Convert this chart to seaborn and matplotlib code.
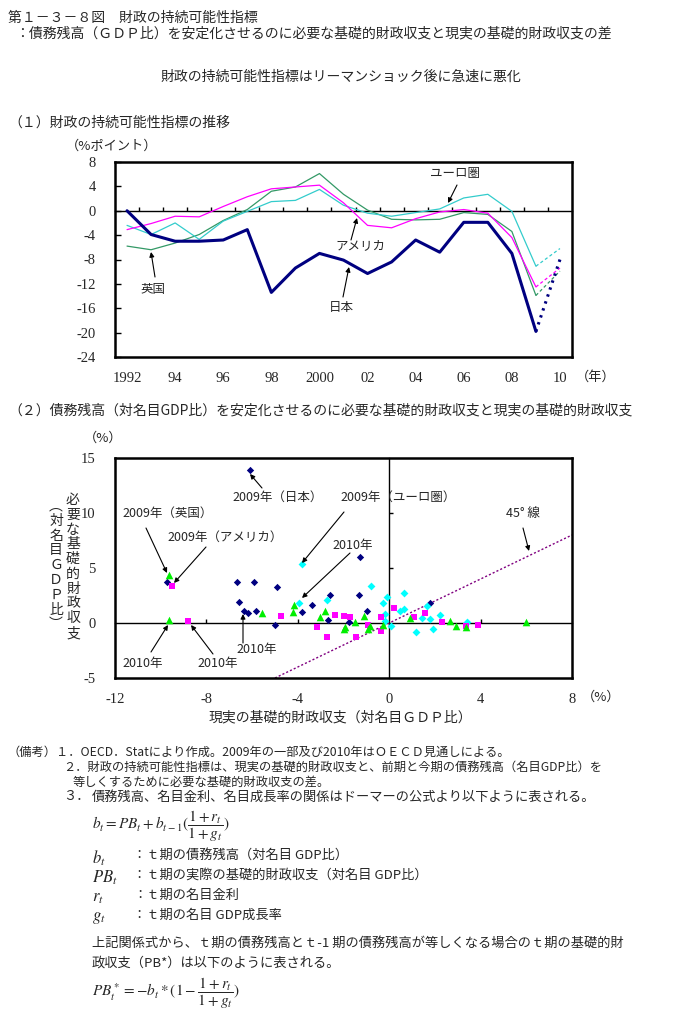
import matplotlib
matplotlib.use("Agg")
import matplotlib.pyplot as plt
import numpy as np
import pandas as pd
import seaborn as sns

# ---------------- Panel (1) data ----------------
years = list(range(1992, 2011))
japan = [0.0, -3.9, -5.0, -5.0, -4.8, -3.1, -13.4, -9.4, -7.0, -8.1, -10.3, -8.4, -4.8, -6.8, -1.9, -1.9, -7.0, -19.8, -8.0]
usa = [-3.1, -2.1, -0.9, -1.0, 0.7, 2.3, 3.6, 3.9, 4.2, 1.3, -2.4, -2.8, -1.3, -0.2, 0.2, -0.4, -4.4, -12.5, -9.4]
euro = [-2.4, -3.9, -2.0, -4.7, -1.7, -0.1, 1.5, 1.7, 3.5, 0.9, -0.4, -0.9, -0.3, 0.3, 2.1, 2.7, -0.1, -9.1, -6.2]
uk = [-5.8, -6.4, -5.3, -3.9, -1.6, 0.2, 3.2, 3.9, 6.1, 2.7, 0.1, -1.4, -1.5, -1.4, -0.3, -0.6, -3.4, -13.9, -9.9]
year_ticks = [1992, 1994, 1996, 1998, 2000, 2002, 2004, 2006, 2008, 2010]
year_labels = ["1992", "94", "96", "98", "2000", "02", "04", "06", "08", "10"]
y1_ticks = [8, 4, 0, -4, -8, -12, -16, -20, -24]

# ---------------- Panel (2) data ----------------
jp_x = [-6.09, -9.71, -6.67, -5.91, -4.89, -1.27, -6.57, -6.34, -6.16, -5.85, -4.99, -3.80, -3.40, -2.61, -2.70, -1.74, -1.31, -0.99, 1.77]
jp_y = [13.9, 3.76, 3.73, 3.73, 3.3, 6.03, 1.88, 1.06, 0.91, 1.06, -0.18, 1.0, 1.64, 2.55, 0.27, 0.06, 2.55, 1.09, 1.85]
eu_x = [-3.82, -3.94, -2.73, -0.79, -0.10, -0.28, -0.19, -0.19, 0.09, 0.63, 0.64, 0.48, 1.66, 1.45, 1.80, 2.23, 1.17, 1.91, 3.42]
eu_y = [5.36, 1.79, 2.12, 3.33, 2.39, 1.85, 0.85, 0.18, -0.24, 2.76, 1.24, 1.06, 1.58, 0.48, 0.39, 0.70, -0.85, -0.52, 0.06]
us_x = [-9.50, -8.80, -4.74, -3.17, -2.72, -2.36, -1.97, -1.72, -1.45, -0.93, -0.36, -0.36, 0.20, 1.09, 1.56, 2.32, 3.37, 3.90]
us_y = [3.33, 0.15, 0.67, -0.33, -1.24, 0.76, 0.67, 0.58, -1.24, -0.18, 0.58, -0.70, 1.39, 0.58, 0.94, 0.12, -0.24, -0.15]
uk_x = [-9.64, -9.64, -5.55, -4.20, -4.16, -3.02, -2.80, -2.0, -1.93, -1.49, -1.12, -0.93, -0.85, -0.25, 0.92, 2.64, 2.93, 3.37, 6.0]
uk_y = [4.36, 0.30, 0.88, 0.97, 1.61, 0.52, 1.06, -0.55, -0.33, 0.06, 0.61, -0.58, -0.24, -0.15, 0.42, 0.15, -0.24, -0.39, 0.06]
x2_ticks = [-12, -8, -4, 0, 4, 8]
y2_ticks = [15, 10, 5, 0, -5]

# ---------------- style ----------------
sns.set_theme(style="white")
plt.rcParams['font.family'] = ['Noto Sans CJK JP', 'DejaVu Sans']
plt.rcParams['mathtext.fontset'] = 'stix'
plt.rcParams['axes.unicode_minus'] = False

W, H = 683, 1019
fig = plt.figure(figsize=(W / 100, H / 100), dpi=100)
fig.patch.set_facecolor('white')


def fx(px):
    return px / W


def fy(py):
    return 1 - py / H


def ftext(px, py, s, size=10, ha='left', va='center', **kw):
    fig.text(fx(px), fy(py), s, fontsize=size, ha=ha, va=va, **kw)


def farrow(tail, head):
    fig.add_artist(matplotlib.patches.FancyArrowPatch(
        (fx(tail[0]), fy(tail[1])), (fx(head[0]), fy(head[1])),
        transform=fig.transFigure, arrowstyle='-|>', mutation_scale=7,
        color='black', lw=0.8, shrinkA=0, shrinkB=0))


SERIF = 'Liberation Serif'

# ---------------- header texts ----------------
ftext(8, 18, "第１－３－８図　財政の持続可能性指標", 10)
ftext(15, 33, "：債務残高（ＧＤＰ比）を安定化させるのに必要な基礎的財政収支と現実の基礎的財政収支の差", 10)
ftext(341, 77, "財政の持続可能性指標はリーマンショック後に急速に悪化", 10, ha='center')
ftext(8, 123, "（１）財政の持続可能性指標の推移", 10)
ftext(66, 146, "（%ポイント）", 9.5)

# ---------------- Panel (1) ----------------
ax1 = fig.add_axes([fx(115), fy(357), fx(572) - fx(115), (357 - 162) / H])
series = [("英国", uk, "#339966", 0.9, (0, (2.5, 2))),
          ("ユーロ圏", euro, "#33CCCC", 0.9, (0, (2.5, 2))),
          ("アメリカ", usa, "#FF00FF", 0.9, (0, (2.5, 2))),
          ("日本", japan, "#000080", 2.2, (0, (0.8, 1.6)))]
for name, vals, col, lw, dots in series:
    df = pd.DataFrame({"year": years, "value": vals})
    sns.lineplot(data=df[df.year <= 2009], x="year", y="value", color=col, lw=lw, ax=ax1)
    sns.lineplot(data=df[df.year >= 2009], x="year", y="value", color=col, lw=lw,
                 linestyle=dots, ax=ax1)
ax1.set_xlim(1991.5, 2010.5)
ax1.set_ylim(-24, 8)
ax1.set_xlabel("")
ax1.set_ylabel("")
ax1.set_yticks(y1_ticks, [str(v) for v in y1_ticks], fontfamily=SERIF, fontsize=10.5)
ax1.set_xticks(year_ticks, year_labels, fontfamily=SERIF, fontsize=10.5)
ax1.tick_params(axis='y', left=True, direction='in', length=4, width=1, color='black', pad=14)
ax1.tick_params(axis='x', bottom=True, length=0, pad=11)
for sp in ax1.spines.values():
    sp.set_color('black')
    sp.set_linewidth(1.8)
sec1 = ax1.secondary_xaxis(24 / 32)
sec1.set_xticks(np.arange(1992.5, 2010, 1.0))
sec1.tick_params(axis='x', direction='out', length=3, width=1, color='black',
                 labeltop=False, labelbottom=False, top=True)
for sp in sec1.spines.values():
    sp.set_color('black')
    sp.set_linewidth(1.0)
ftext(576, 377, "（年）", 9.5)

# labels + arrows panel (1)
ftext(455, 174, "ユーロ圏", 9, ha='center')
farrow((457, 185), (448, 203))
ftext(360, 246, "アメリカ", 9, ha='center')
farrow((351, 240), (357, 218))
ftext(153, 290, "英国", 9, ha='center')
farrow((155, 277), (151, 252))
ftext(341, 307, "日本", 9, ha='center')
farrow((343, 297), (349, 267))

# ---------------- Panel (2) ----------------
ftext(8, 410, "（２）債務残高（対名目GDP比）を安定化させるのに必要な基礎的財政収支と現実の基礎的財政収支", 10)
ftext(84, 438, "（%）", 9.5)

ax2 = fig.add_axes([fx(115), fy(678), fx(572) - fx(115), (678 - 458) / H])
ax2.axline((0, 0), slope=1, color='#800080', lw=1.0, linestyle=(0, (1.5, 1.5)))
scat = [(jp_x, jp_y, "#000080", "D", 14),
        (eu_x, eu_y, "#00FFFF", "D", 16),
        (us_x, us_y, "#FF00FF", "s", 24),
        (uk_x, uk_y, "#00EE00", "^", 30)]
for xs, ys, col, mk, sz in scat:
    sns.scatterplot(x=xs, y=ys, color=col, marker=mk, s=sz, linewidth=0, ax=ax2, zorder=3)
ax2.set_xlim(-12, 8)
ax2.set_ylim(-5, 15)
ax2.set_xticks(x2_ticks, [str(v) for v in x2_ticks], fontfamily=SERIF, fontsize=10.5)
ax2.set_yticks(y2_ticks, [str(v) for v in y2_ticks], fontfamily=SERIF, fontsize=10.5)
ax2.tick_params(axis='both', length=0)
ax2.tick_params(axis='y', pad=14)
ax2.tick_params(axis='x', pad=11)
for sp in ax2.spines.values():
    sp.set_color('black')
    sp.set_linewidth(1.8)
sec2x = ax2.secondary_xaxis(5 / 20)
sec2x.set_xticks([-8, -4, 4])
sec2x.tick_params(axis='x', direction='in', length=3, width=1, color='black',
                  labeltop=False, labelbottom=False, bottom=True)
sec2y = ax2.secondary_yaxis(12 / 20)
sec2y.set_yticks([5, 10])
sec2y.tick_params(axis='y', direction='out', length=3, width=1, color='black',
                  labelleft=False, labelright=False, right=True)
for sec in (sec2x, sec2y):
    for sp in sec.spines.values():
        sp.set_color('black')
        sp.set_linewidth(1.0)
ftext(582, 697, "（%）", 9.5)
ftext(340, 717, "現実の基礎的財政収支（対名目ＧＤＰ比）", 10, ha='center')

# vertical y label
col1 = "必要な基礎的財政収支"
for i, ch in enumerate(col1):
    ftext(73, 500 + i * 14.8, ch, 10, ha='center')
col2 = "︵対名目ＧＤＰ比︶"
for i, ch in enumerate(col2):
    ftext(56, 506 + i * 14.8, ch, 10, ha='center')

# annotations panel (2)
ann = 9
ftext(278, 497, "2009年（日本）", ann, ha='center')
farrow((262, 488), (250, 474))
ftext(398, 497, "2009年（ユーロ圏）", ann, ha='center')
farrow((344, 512), (302, 563))
ftext(168, 513, "2009年（英国）", ann, ha='center')
farrow((146, 528), (167, 573))
ftext(225, 537, "2009年（アメリカ）", ann, ha='center')
farrow((206, 547), (174, 583))
ftext(353, 546, "2010年", ann, ha='center')
farrow((350, 553), (302, 598))
ftext(523, 513, "45° 線", ann, ha='center')
farrow((523, 528), (529, 551))
ftext(143, 663, "2010年", ann, ha='center')
farrow((151, 652), (168, 625))
ftext(218, 663, "2010年", ann, ha='center')
farrow((213, 654), (191, 625))
ftext(257, 650, "2010年", ann, ha='center')
farrow((243, 643), (243, 614))

# ---------------- notes ----------------
ns = 8.8
ftext(8, 752, "（備考）１．OECD．Statにより作成。2009年の一部及び2010年はＯＥＣＤ見通しによる。", ns)
ftext(63, 767, "２．財政の持続可能性指標は、現実の基礎的財政収支と、前期と今期の債務残高（名目GDP比）を", ns)
ftext(73, 782, "等しくするために必要な基礎的財政収支の差。", ns)
ftext(63, 797, "３．", 9.5)
ftext(92, 797, "債務残高、名目金利、名目成長率の関係はドーマーの公式より以下ように表される。", 9.5)
ftext(92, 826, r"$b_t = PB_t + b_{t-1}(\dfrac{1+r_t}{1+g_t})$", 11)
ftext(92, 858, r"$b_t$", 12)
ftext(133, 855, "：ｔ期の債務残高（対名目 GDP比）", 9.5)
ftext(92, 878, r"$PB_t$", 12)
ftext(133, 875, "：ｔ期の実際の基礎的財政収支（対名目 GDP比）", 9.5)
ftext(92, 898, r"$r_t$", 12)
ftext(133, 895, "：ｔ期の名目金利", 9.5)
ftext(92, 918, r"$g_t$", 12)
ftext(133, 915, "：ｔ期の名目 GDP成長率", 9.5)
ftext(92, 943, "上記関係式から、ｔ期の債務残高とｔ-1 期の債務残高が等しくなる場合のｔ期の基礎的財", 9.5)
ftext(92, 963, "政収支（PB*）は以下のように表される。", 9.5)
ftext(92, 993, r"$PB_t^* = -b_t*(1-\dfrac{1+r_t}{1+g_t})$", 11)

fig.savefig("out.png", dpi=100, facecolor='white')
